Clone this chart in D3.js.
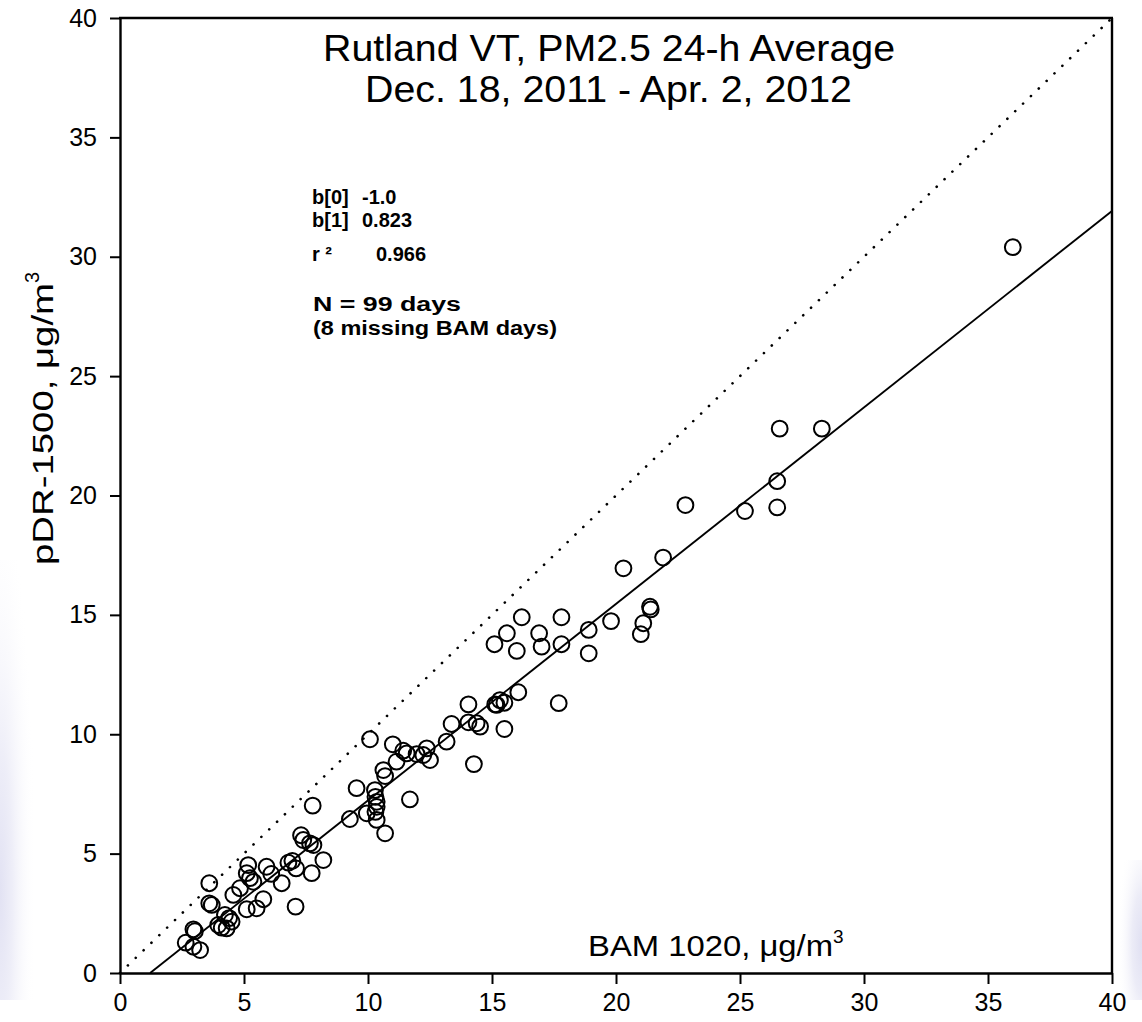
<!DOCTYPE html>
<html>
<head>
<meta charset="utf-8">
<script src="https://cdn.jsdelivr.net/npm/d3@7"></script>
<style>
html,body{margin:0;padding:0;background:#fff;}
svg{display:block;font-family:"Liberation Sans",Arial,sans-serif;}
</style>
</head>
<body>
<svg id="chart" width="1142" height="1022"></svg>
<script>
// ---- data ----
const bamX = [36.0,26.6,28.3,26.5,26.5,25.2,22.8,21.9,20.3,21.37,21.4,21.1,21.0,19.8,18.9,18.9,17.8,16.2,15.6,16.9,
  15.1,16.0,17.0,17.8,16.06,17.69,15.13,15.32,15.5,14.05,15.5,13.37,14.05,14.38,14.52,13.17,14.27,10.08,11.0,11.42,
  11.56,11.96,12.37,12.23,12.5,11.15,10.62,10.69,9.54,10.28,10.3,10.35,10.35,10.3,10.35,9.95,9.27,11.69,10.69,7.77,
  7.3,7.39,7.8,8.2,6.79,6.95,7.1,7.73,6.52,7.08,5.91,6.1,5.17,5.11,5.24,5.38,4.84,4.57,5.78,5.51,
  5.11,3.6,3.6,3.7,2.96,3.02,2.65,2.96,3.23,4.23,3.96,4.3,4.5,4.1,4.4,7.66,15.19];
const pdrY = [30.4,22.8,22.8,20.6,19.5,19.35,19.6,17.4,16.95,15.34,15.23,14.65,14.19,14.74,14.37,13.39,14.9,14.9,14.23,14.23,
  13.77,13.49,13.67,13.77,11.76,11.3,11.25,11.43,11.32,11.25,10.22,10.43,10.5,10.46,10.32,9.69,8.75,9.79,9.58,9.31,
  9.2,9.17,9.41,9.13,8.92,8.85,8.5,8.25,7.74,7.66,7.38,7.17,6.96,6.75,6.41,6.69,6.45,7.27,5.85,7.01,
  5.77,5.57,5.36,4.73,4.62,4.7,4.38,4.18,3.76,2.78,4.45,4.15,4.52,4.18,3.97,3.82,3.55,3.27,3.09,2.71,
  2.67,3.76,2.92,2.85,1.83,1.75,1.27,1.1,0.96,2.43,2.01,1.87,2.15,1.9,2.3,5.43,11.23];
const fitB0 = -1.0, fitB1 = 0.823;
const tickVals = [0,5,10,15,20,25,30,35,40];
const titleLines = ["Rutland VT, PM2.5 24-h Average","Dec. 18, 2011 - Apr. 2, 2012"];
const statLabels = ["b[0]","b[1]","r \u00B2"];
const statValues = ["-1.0","0.823","0.966"];
const noteLines = ["N = 99 days","(8 missing BAM days)"];

// ---- layout ----
const svg = d3.select("#chart");
const x = d3.scaleLinear().domain([0,40]).range([120,1112]);
const y = d3.scaleLinear().domain([0,40]).range([973,18]);

// background tint (slide background)
const defs = svg.append("defs");
const gl = defs.append("radialGradient").attr("id","gl").attr("cx",0).attr("cy",0.75).attr("r",0.9)
  .attr("gradientTransform","translate(0,0) scale(1,1)");
gl.append("stop").attr("offset",0).attr("stop-color","#e2e2f3");
gl.append("stop").attr("offset",0.35).attr("stop-color","#eeeef8");
gl.append("stop").attr("offset",1).attr("stop-color","#ffffff").attr("stop-opacity",0);
const gr = defs.append("radialGradient").attr("id","gr").attr("cx",1).attr("cy",0.6).attr("r",0.9);
gr.append("stop").attr("offset",0).attr("stop-color","#e0e0f2");
gr.append("stop").attr("offset",0.4).attr("stop-color","#ececf7");
gr.append("stop").attr("offset",1).attr("stop-color","#ffffff").attr("stop-opacity",0);
svg.append("rect").attr("x",0).attr("y",560).attr("width",40).attr("height",440).attr("fill","url(#gl)");
svg.append("rect").attr("x",1114).attr("y",860).attr("width",28).attr("height",140).attr("fill","url(#gr)");

// plot background
svg.append("rect").attr("x",120).attr("y",18).attr("width",992).attr("height",955).attr("fill","#fff");

// 1:1 dotted line
svg.append("line")
  .attr("x1",x(0)).attr("y1",y(0)).attr("x2",x(40)).attr("y2",y(40))
  .attr("stroke","#000").attr("stroke-width",2.6).attr("stroke-dasharray","0.1,10.8").attr("stroke-linecap","round");

// regression line
const xStart = -fitB0/fitB1;
svg.append("line")
  .attr("x1",x(xStart)).attr("y1",y(0)).attr("x2",x(40)).attr("y2",y(fitB0+fitB1*40))
  .attr("stroke","#000").attr("stroke-width",1.9);

// points
const pts = bamX.map((v,i)=>({x:v,y:pdrY[i]}));
svg.append("g").selectAll("circle").data(pts).join("circle")
  .attr("cx",d=>x(d.x)).attr("cy",d=>y(d.y)).attr("r",7.9)
  .attr("fill","none").attr("stroke","#000").attr("stroke-width",2);

// axes
const xAxis = svg.append("g").attr("transform","translate(0,973)")
  .call(d3.axisBottom(x).tickValues(tickVals).tickFormat(d3.format("d")).tickSize(11).tickSizeOuter(0).tickPadding(9));
const yAxis = svg.append("g").attr("transform","translate(120,0)")
  .call(d3.axisLeft(y).tickValues(tickVals).tickFormat(d3.format("d")).tickSize(10).tickSizeOuter(0).tickPadding(13));
[xAxis,yAxis].forEach(g=>{
  g.select(".domain").attr("stroke","#000").attr("stroke-width",2.4);
  g.selectAll(".tick line").attr("stroke","#000").attr("stroke-width",2);
  g.selectAll(".tick text").attr("fill","#000").attr("font-size",25).attr("font-family","Liberation Sans, Arial, sans-serif");
});
// top and right borders
svg.append("line").attr("x1",x(0)-1).attr("x2",x(40)+1).attr("y1",y(40)).attr("y2",y(40)).attr("stroke","#000").attr("stroke-width",2.4);
svg.append("line").attr("x1",x(40)).attr("x2",x(40)).attr("y1",y(40)).attr("y2",y(0)).attr("stroke","#000").attr("stroke-width",2.4);

// title
svg.append("text").attr("x",609).attr("y",61).attr("text-anchor","middle").attr("font-size",37)
  .attr("textLength",572).attr("lengthAdjust","spacingAndGlyphs").text(titleLines[0]);
svg.append("text").attr("x",608.5).attr("y",102).attr("text-anchor","middle").attr("font-size",37)
  .attr("textLength",487).attr("lengthAdjust","spacingAndGlyphs").text(titleLines[1]);

// stats
const statBase = [204,227,261];
const valX = [362,362,376];
statLabels.forEach((t,i)=>{
  svg.append("text").attr("x",312).attr("y",statBase[i]).attr("font-size",20).attr("font-weight","bold").text(t);
  svg.append("text").attr("x",valX[i]).attr("y",statBase[i]).attr("font-size",20).attr("font-weight","bold").text(statValues[i]);
});
const noteBase = [311,335];
const noteLen = [148,244];
noteLines.forEach((t,i)=>{
  svg.append("text").attr("x",313).attr("y",noteBase[i]).attr("font-size",20).attr("font-weight","bold")
    .attr("textLength",noteLen[i]).attr("lengthAdjust","spacingAndGlyphs").text(t);
});

// x axis label
const xl = svg.append("text").attr("x",588).attr("y",956).attr("font-size",29);
xl.append("tspan").attr("textLength",245).attr("lengthAdjust","spacingAndGlyphs").text("BAM 1020, \u03BCg/m");
xl.append("tspan").attr("font-size",19).attr("dy",-13).text("3");

// y axis label
const yl = svg.append("text").attr("transform","translate(53,565) rotate(-90)").attr("font-size",30);
yl.append("tspan").attr("textLength",282).attr("lengthAdjust","spacingAndGlyphs").text("pDR-1500, \u03BCg/m");
yl.append("tspan").attr("font-size",20).attr("dy",-14).text("3");
</script>
</body>
</html>
